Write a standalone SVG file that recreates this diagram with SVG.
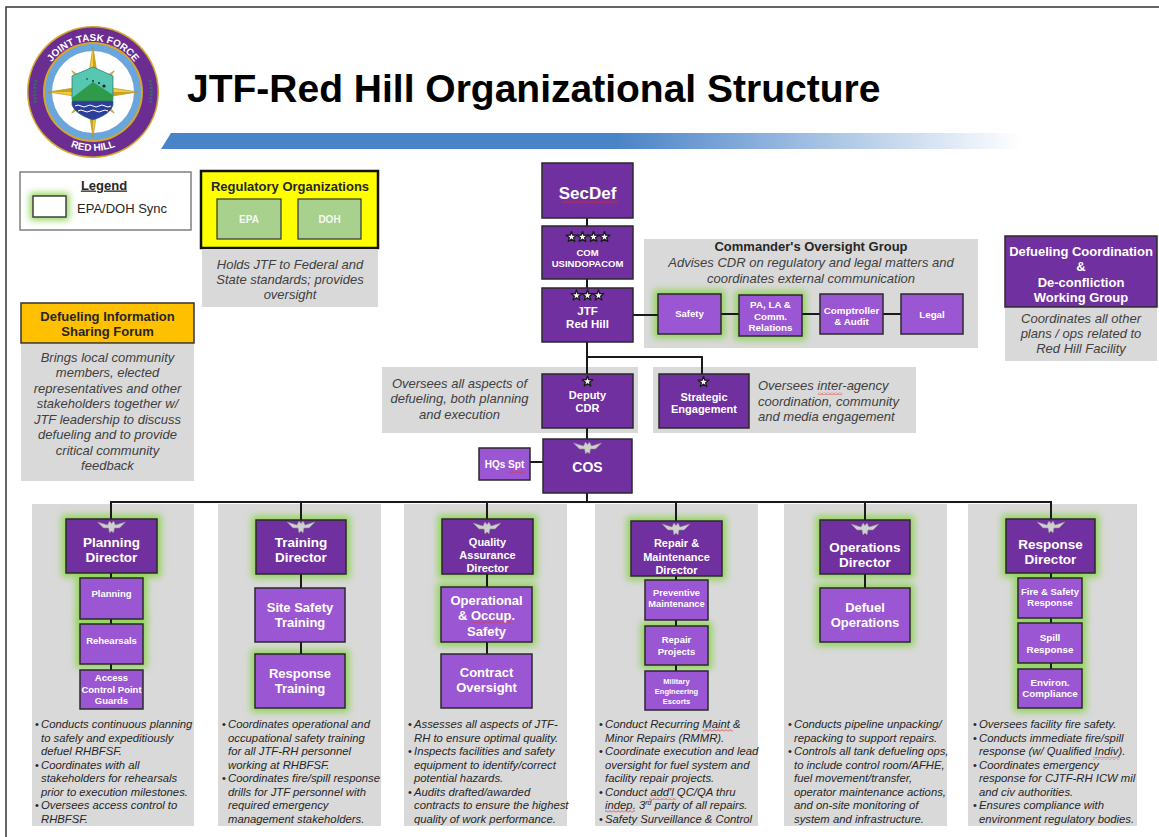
<svg xmlns="http://www.w3.org/2000/svg" xmlns:xlink="http://www.w3.org/1999/xlink" width="1159" height="837" viewBox="0 0 1159 837">
<defs>
<style>
text{font-family:"Liberation Sans",Arial,sans-serif}
.w{fill:#fff;font-weight:bold;text-anchor:middle}
.gi{fill:#404040;font-style:italic;font-size:13px;text-anchor:middle}
.gl{fill:#404040;font-style:italic;font-size:13px}
.bl{fill:#262626;font-style:italic;font-size:11.3px}
.bu{fill:#262626;font-size:11px}
.hd{fill:#262626;font-weight:bold;font-size:13px;text-anchor:middle}
.d{fill:#7030a0;stroke:#2a2a2a;stroke-width:1.5}
.s{fill:#9b57d3;stroke:#2a2a2a;stroke-width:1.5}
.gb{fill:#d9d9d9}
.glow{fill:#8fd456;filter:url(#blur)}
.c{stroke:#1a1a1a;stroke-width:2;fill:none}
.sq{fill:url(#squig)}
</style>
<filter id="blur" x="-40%" y="-40%" width="180%" height="180%"><feGaussianBlur stdDeviation="3.5"/></filter>
<linearGradient id="bar" gradientUnits="userSpaceOnUse" x1="161" y1="0" x2="1022" y2="0">
<stop offset="0" stop-color="#4a84c8"/><stop offset="0.53" stop-color="#4a84c8"/><stop offset="1" stop-color="#4a84c8" stop-opacity="0"/>
</linearGradient>
<pattern id="squig" width="4" height="3" patternUnits="userSpaceOnUse"><path d="M0,2.5 L2,0.5 L4,2.5" fill="none" stroke="#e03030" stroke-width="0.8"/></pattern>
<polygon id="star" points="0,-5.6 1.32,-1.81 5.33,-1.73 2.13,0.69 3.29,4.53 0,2.24 -3.29,4.53 -2.13,0.69 -5.33,-1.73 -1.32,-1.81" fill="#f4f4f4" stroke="#1a1a1a" stroke-width="1.3" stroke-linejoin="round"/>
<path id="eagle" d="M-14,-5 L-4,-2 L-2,-6 L0,-3.5 L2,-6 L4,-2 L14,-5 L8,1 L3,1 L2,6 L0,4 L-2,6 L-3,1 L-8,1 Z" fill="#d0d0d0" stroke="#8c8c8c" stroke-width="0.6"/>
<path id="arcTop" d="M42,92 A51,51 0 0 1 144,92"/>
<path id="arcBot" d="M34,92 A59,59 0 0 0 152,92"/>
</defs>

<rect width="1159" height="837" fill="#fff"/>
<path d="M6,837 L6,7 L1159,7" fill="none" stroke="#333" stroke-width="1.5"/>

<g id="logo">
<circle cx="93" cy="92" r="66" fill="#d4a72c"/>
<circle cx="93" cy="92" r="64.5" fill="#6b2d91"/>
<circle cx="93" cy="92" r="50" fill="#d4a72c"/>
<circle cx="93" cy="92" r="48" fill="#6aa6dc"/>
<circle cx="93" cy="92" r="41" fill="#fff"/>
<path d="M36,80 A58,58 0 0 0 36,104" fill="none" stroke="#2f6f66" stroke-width="3" stroke-dasharray="2 1.5"/>
<path d="M150,80 A58,58 0 0 1 150,104" fill="none" stroke="#2f6f66" stroke-width="3" stroke-dasharray="2 1.5"/>
<g transform="translate(93,92)">
<polygon transform="rotate(45)" points="0,-30 5,-5 30,0 5,5 0,30 -5,5 -30,0 -5,-5" fill="#e8c32a" stroke="#a8861a" stroke-width="0.6"/>
<polygon points="0,-45 6,-6 45,0 6,6 0,45 -6,6 -45,0 -6,-6" fill="#f0cd3a" stroke="#a8861a" stroke-width="0.6"/>
<path d="M0,-45 L6,-6 L0,0 Z M45,0 L6,6 L0,0 Z M0,45 L-6,6 L0,0 Z M-45,0 L-6,-6 L0,0 Z" fill="#c9a224"/>
</g>
<path d="M72,76 L93,67 L113,76 L113,100 L72,100 Z" fill="#55c7b3" stroke="#2d6f66" stroke-width="0.7"/>
<path d="M72,98 L93,82 L113,95 L113,102 L72,102 Z" fill="#2e9a4a"/>
<path d="M72,101 L113,101 L113,105 Q111,114 93,120 Q75,114 72,105 Z" fill="#2b3f9a" stroke="#2d6f66" stroke-width="0.7"/>
<path d="M75,106 q3,-2 6,0 t6,0 t6,0 t6,0 t6,0 t6,0 M78,111 q3,-2 6,0 t6,0 t6,0 t6,0 t6,0" fill="none" stroke="#fff" stroke-width="1"/>
<circle cx="87" cy="79" r="0.8" fill="#222"/><circle cx="93" cy="81" r="0.9" fill="#222"/><circle cx="99" cy="83" r="1" fill="#222"/><circle cx="104" cy="86" r="1.6" fill="#222"/>
<text font-size="10" font-weight="bold" fill="#fff"><textPath xlink:href="#arcTop" href="#arcTop" startOffset="50%" text-anchor="middle">JOINT TASK FORCE</textPath></text>
<text font-size="10" font-weight="bold" fill="#fff"><textPath xlink:href="#arcBot" href="#arcBot" startOffset="50%" text-anchor="middle">RED HILL</textPath></text>
</g>

<g id="title">
<text x="187" y="102" font-size="39" font-weight="bold" fill="#000">JTF-Red Hill Organizational Structure</text>
<polygon points="171,133 1030,133 1022,149 161,149" fill="url(#bar)"/>
</g>

<g id="legend">
<rect x="20" y="172" width="171" height="58" fill="#fff" stroke="#7f7f7f" stroke-width="1.5"/>
<text x="104" y="189.5" class="hd" text-decoration="underline" fill="#262626">Legend</text>
<rect class="glow" x="30" y="193" width="39" height="27"/>
<rect x="33" y="196" width="33" height="21" fill="#fff" stroke="#404040" stroke-width="1.5"/>
<text x="77" y="212.5" font-size="13" fill="#262626">EPA/DOH Sync</text>
</g>

<g id="regulatory">
<rect x="201" y="171" width="177" height="77" fill="#ffff00" stroke="#111" stroke-width="2.5"/>
<text x="290" y="191" class="hd">Regulatory Organizations</text>
<rect x="217" y="199" width="64" height="40" fill="#a9d18e" stroke="#333" stroke-width="1.2"/>
<text x="249" y="222.5" class="w" font-size="10" fill-opacity="0.9">EPA</text>
<rect x="298" y="199" width="63" height="40" fill="#a9d18e" stroke="#333" stroke-width="1.2"/>
<text x="329.5" y="222.5" class="w" font-size="10" fill-opacity="0.9">DOH</text>
<rect class="gb" x="202" y="249" width="176" height="58"/>
<text class="gi" x="290" y="268.5">Holds JTF to Federal and</text>
<text class="gi" x="290" y="283.5">State standards; provides</text>
<text class="gi" x="290" y="298.5">oversight</text>
</g>

<g id="dis-forum">
<rect x="21" y="303" width="173" height="40" fill="#ffc000" stroke="#333" stroke-width="1.5"/>
<text x="107.5" y="320.5" class="hd">Defueling Information</text>
<text x="107.5" y="336" class="hd">Sharing Forum</text>
<rect class="gb" x="21" y="344" width="173" height="137"/>
<text class="gi" x="107.5" y="361.5">Brings local community</text>
<text class="gi" x="107.5" y="377">members, elected</text>
<text class="gi" x="107.5" y="393">representatives and other</text>
<text class="gi" x="107.5" y="408">stakeholders together w/</text>
<text class="gi" x="107.5" y="423.5">JTF leadership to discuss</text>
<text class="gi" x="107.5" y="439">defueling and to provide</text>
<text class="gi" x="107.5" y="455">critical community</text>
<text class="gi" x="107.5" y="469.5">feedback</text>
</g>

<g id="backgrounds">
<rect class="gb" x="644" y="239" width="334" height="109"/>
<rect class="gb" x="382" y="367" width="256" height="66"/>
<rect class="gb" x="653" y="367" width="263" height="66"/>
<rect class="gb" x="32" y="504" width="162" height="322"/>
<rect class="gb" x="218" y="504" width="163" height="322"/>
<rect class="gb" x="404" y="504" width="163" height="322"/>
<rect class="gb" x="595" y="504" width="163" height="322"/>
<rect class="gb" x="784" y="504" width="163" height="322"/>
<rect class="gb" x="968" y="504" width="169" height="322"/>
</g>

<g id="glows">
<rect class="glow" x="654" y="290" width="71" height="48"/>
<rect class="glow" x="735" y="291" width="71" height="49"/>
<rect class="glow" x="62" y="515" width="99" height="62"/>
<rect class="glow" x="76" y="574" width="71" height="49"/>
<rect class="glow" x="76" y="620" width="71" height="48"/>
<rect class="glow" x="252" y="516" width="98" height="62"/>
<rect class="glow" x="251" y="650" width="98" height="62"/>
<rect class="glow" x="438" y="515" width="99" height="63"/>
<rect class="glow" x="437" y="583" width="99" height="63"/>
<rect class="glow" x="627" y="517" width="99" height="63"/>
<rect class="glow" x="641" y="622" width="71" height="47"/>
<rect class="glow" x="816" y="516" width="98" height="62"/>
<rect class="glow" x="816" y="584" width="98" height="62"/>
<rect class="glow" x="1002" y="515" width="97" height="62"/>
<rect class="glow" x="1014" y="574" width="72" height="48"/>
<rect class="glow" x="1014" y="619" width="72" height="48"/>
<rect class="glow" x="1014" y="665" width="72" height="47"/>
</g>

<g id="connectors">
<path class="c" d="M587,218 V226 M587,279 V288 M587,342 V374 M587,357 H702 V374 M633,315 H658 M721,314 H739 M802,314 H820 M883,314 H901 M587,428 V439 M530,462 H543 M587,493 V502"/>
<path class="c" d="M110,502 H1052 M111,502 V519 M301,502 V520 M487,502 V519 M676,502 V521 M865,502 V520 M1051,502 V519"/>
<path class="c" d="M111,573 V578 M111,619 V624 M111,664 V670 M301,574 V588 M301,642 V654 M487,574 V587 M487,642 V654 M676,576 V580 M676,620 V626 M676,665 V671 M865,574 V588 M1051,573 V578 M1051,618 V623 M1051,663 V669"/>
</g>

<g id="secdef">
<rect class="d" x="542" y="163" width="91" height="55"/>
<text x="587.5" y="199" class="w" font-size="17">SecDef</text>
</g>

<g id="usindopacom">
<rect class="d" x="542" y="226" width="91" height="53"/>
<use href="#star" xlink:href="#star" x="571.5" y="237"/>
<use href="#star" xlink:href="#star" x="582.5" y="237"/>
<use href="#star" xlink:href="#star" x="593.5" y="237"/>
<use href="#star" xlink:href="#star" x="604.5" y="237"/>
<text x="587.5" y="255.5" class="w" font-size="9.5">COM</text>
<text x="587.5" y="267" class="w" font-size="9.5">USINDOPACOM</text>
</g>

<g id="jtf-red-hill">
<rect class="d" x="542" y="288" width="91" height="54"/>
<use href="#star" xlink:href="#star" x="576.5" y="295.5"/>
<use href="#star" xlink:href="#star" x="587.5" y="295.5"/>
<use href="#star" xlink:href="#star" x="598.5" y="295.5"/>
<text x="587.5" y="315" class="w" font-size="11.5">JTF</text>
<text x="587.5" y="328" class="w" font-size="11.5">Red Hill</text>
</g>

<g id="oversight-group">
<text x="811" y="251" class="hd">Commander's Oversight Group</text>
<text class="gi" x="811" y="267">Advises CDR on regulatory and legal matters and</text>
<text class="gi" x="811" y="283">coordinates external communication</text>
</g>

<g id="safety">
<rect class="s" x="658" y="294" width="63" height="40"/>
<text x="689.5" y="317.3" class="w" font-size="9.5">Safety</text>
</g>
<g id="pa-la">
<rect class="s" x="739" y="295" width="63" height="41"/>
<text x="770.5" y="308.4" class="w" font-size="9.8">PA, LA &amp;</text>
<text x="770.5" y="320.2" class="w" font-size="9.8">Comm.</text>
<text x="770.5" y="331.2" class="w" font-size="9.8">Relations</text>
</g>
<g id="comptroller">
<rect class="s" x="820" y="294" width="63" height="40"/>
<text x="851.5" y="314.2" class="w" font-size="9.8">Comptroller</text>
<text x="851.5" y="325.2" class="w" font-size="9.8">&amp; Audit</text>
</g>
<g id="legal">
<rect class="s" x="901" y="294" width="62" height="40"/>
<text x="932" y="318.4" class="w" font-size="9.8">Legal</text>
</g>

<g id="dcdwg">
<rect class="d" x="1005" y="236" width="152" height="71"/>
<text x="1081" y="256" class="w" font-size="13">Defueling Coordination</text>
<text x="1081" y="271" class="w" font-size="13">&amp;</text>
<text x="1081" y="286.8" class="w" font-size="13">De-confliction</text>
<text x="1081" y="302" class="w" font-size="13">Working Group</text>
<rect class="gb" x="1005" y="308" width="152" height="53"/>
<text class="gi" x="1081" y="322.8">Coordinates all other</text>
<text class="gi" x="1081" y="337.8">plans / ops related to</text>
<text class="gi" x="1081" y="352.8">Red Hill Facility</text>
</g>

<g id="deputy-cdr">
<rect class="d" x="542" y="374" width="91" height="54"/>
<use href="#star" xlink:href="#star" x="587.5" y="381.5"/>
<text x="587.5" y="399" class="w" font-size="11">Deputy</text>
<text x="587.5" y="412" class="w" font-size="11">CDR</text>
<text class="gi" x="459.5" y="388">Oversees all aspects of</text>
<text class="gi" x="459.5" y="403">defueling, both planning</text>
<text class="gi" x="459.5" y="419">and execution</text>
</g>

<g id="strategic-engagement">
<rect class="d" x="659" y="374" width="90" height="54"/>
<use href="#star" xlink:href="#star" x="703.5" y="382"/>
<text x="704" y="401" class="w" font-size="11">Strategic</text>
<text x="704" y="413" class="w" font-size="11">Engagement</text>
<text class="gl" x="758" y="390">Oversees inter-agency</text>
<text class="gl" x="758" y="406">coordination, community</text>
<text class="gl" x="758" y="421">and media engagement</text>
</g>

<g id="hqs-spt">
<rect class="s" x="479" y="448" width="51" height="32"/>
<text x="504.5" y="467.5" class="w" font-size="10">HQs Spt</text>
</g>

<g id="cos">
<rect class="d" x="543" y="439" width="89" height="54"/>
<use href="#eagle" xlink:href="#eagle" x="587.5" y="448"/>
<text x="587.5" y="472" class="w" font-size="14">COS</text>
</g>

<g id="planning-director">
<rect class="d" x="66" y="519" width="91" height="54"/>
<use href="#eagle" xlink:href="#eagle" x="111.5" y="527"/>
<text x="111.5" y="547" class="w" font-size="13.5">Planning</text>
<text x="111.5" y="562" class="w" font-size="13.5">Director</text>
</g>
<g id="planning">
<rect class="s" x="80" y="578" width="63" height="41"/>
<text x="111.5" y="596.5" class="w" font-size="9.5">Planning</text>
</g>
<g id="rehearsals">
<rect class="s" x="80" y="624" width="63" height="40"/>
<text x="111.5" y="643.5" class="w" font-size="9.5">Rehearsals</text>
</g>
<g id="access-control">
<rect class="s" x="80" y="670" width="63" height="39"/>
<text x="111.5" y="680.7" class="w" font-size="9.5">Access</text>
<text x="111.5" y="692.7" class="w" font-size="9.5">Control Point</text>
<text x="111.5" y="703.7" class="w" font-size="9.5">Guards</text>
</g>
<g id="planning-text">
<text class="bu" x="35" y="728">•</text><text class="bl" x="41" y="728">Conducts continuous planning</text>
<text class="bl" x="41" y="741.5">to safely and expeditiously</text>
<text class="bl" x="41" y="755">defuel RHBFSF.</text>
<text class="bu" x="35" y="768.5">•</text><text class="bl" x="41" y="768.5">Coordinates with all</text>
<text class="bl" x="41" y="782">stakeholders for rehearsals</text>
<text class="bl" x="41" y="795.5">prior to execution milestones.</text>
<text class="bu" x="35" y="809">•</text><text class="bl" x="41" y="809">Oversees access control to</text>
<text class="bl" x="41" y="822.5">RHBFSF.</text>
</g>

<g id="training-director">
<rect class="d" x="256" y="520" width="90" height="54"/>
<use href="#eagle" xlink:href="#eagle" x="301" y="527"/>
<text x="301" y="547" class="w" font-size="13.5">Training</text>
<text x="301" y="562" class="w" font-size="13.5">Director</text>
</g>
<g id="site-safety-training">
<rect class="s" x="255" y="588" width="90" height="54"/>
<text x="300" y="611.5" class="w" font-size="13">Site Safety</text>
<text x="300" y="626.5" class="w" font-size="13">Training</text>
</g>
<g id="response-training">
<rect class="s" x="255" y="654" width="90" height="54"/>
<text x="300" y="677.5" class="w" font-size="13">Response</text>
<text x="300" y="692.5" class="w" font-size="13">Training</text>
</g>
<g id="training-text">
<text class="bu" x="222" y="728">•</text><text class="bl" x="228" y="728">Coordinates operational and</text>
<text class="bl" x="228" y="741.5">occupational safety training</text>
<text class="bl" x="228" y="755">for all JTF-RH personnel</text>
<text class="bl" x="228" y="768.5">working at RHBFSF.</text>
<text class="bu" x="222" y="782">•</text><text class="bl" x="228" y="782">Coordinates fire/spill response</text>
<text class="bl" x="228" y="795.5">drills for JTF personnel with</text>
<text class="bl" x="228" y="809">required emergency</text>
<text class="bl" x="228" y="822.5">management stakeholders.</text>
</g>

<g id="qa-director">
<rect class="d" x="442" y="519" width="91" height="55"/>
<use href="#eagle" xlink:href="#eagle" x="487" y="528"/>
<text x="487.5" y="546" class="w" font-size="11">Quality</text>
<text x="487.5" y="559" class="w" font-size="11">Assurance</text>
<text x="487.5" y="572" class="w" font-size="11">Director</text>
</g>
<g id="occ-safety">
<rect class="s" x="441" y="587" width="91" height="55"/>
<text x="486.5" y="604.5" class="w" font-size="13">Operational</text>
<text x="486.5" y="619.5" class="w" font-size="13">&amp; Occup.</text>
<text x="486.5" y="635.5" class="w" font-size="13">Safety</text>
</g>
<g id="contract-oversight">
<rect class="s" x="441" y="654" width="91" height="54"/>
<text x="486.5" y="676.5" class="w" font-size="13">Contract</text>
<text x="486.5" y="691.5" class="w" font-size="13">Oversight</text>
</g>
<g id="qa-text">
<text class="bu" x="408" y="728">•</text><text class="bl" x="414" y="728">Assesses all aspects of JTF-</text>
<text class="bl" x="414" y="741.5">RH to ensure optimal quality.</text>
<text class="bu" x="408" y="755">•</text><text class="bl" x="414" y="755">Inspects facilities and safety</text>
<text class="bl" x="414" y="768.5">equipment to identify/correct</text>
<text class="bl" x="414" y="782">potential hazards.</text>
<text class="bu" x="408" y="795.5">•</text><text class="bl" x="414" y="795.5">Audits drafted/awarded</text>
<text class="bl" x="414" y="809">contracts to ensure the highest</text>
<text class="bl" x="414" y="822.5">quality of work performance.</text>
</g>

<g id="repair-director">
<rect class="d" x="631" y="521" width="91" height="55"/>
<use href="#eagle" xlink:href="#eagle" x="676" y="529"/>
<text x="676.5" y="547" class="w" font-size="11">Repair &amp;</text>
<text x="676.5" y="561" class="w" font-size="11">Maintenance</text>
<text x="676.5" y="574" class="w" font-size="11">Director</text>
</g>
<g id="preventive-maintenance">
<rect class="s" x="645" y="580" width="63" height="40"/>
<text x="676.5" y="596.3" class="w" font-size="9.3">Preventive</text>
<text x="676.5" y="607.3" class="w" font-size="9.3">Maintenance</text>
</g>
<g id="repair-projects">
<rect class="s" x="645" y="626" width="63" height="39"/>
<text x="676.5" y="643.3" class="w" font-size="9.5">Repair</text>
<text x="676.5" y="655.3" class="w" font-size="9.5">Projects</text>
</g>
<g id="military-escorts">
<rect class="s" x="645" y="671" width="63" height="39"/>
<text x="676.5" y="683.6" class="w" font-size="7.5">Military</text>
<text x="676.5" y="693.6" class="w" font-size="7.5">Engineering</text>
<text x="676.5" y="703.6" class="w" font-size="7.5">Escorts</text>
</g>
<g id="repair-text">
<text class="bu" x="599" y="728">•</text><text class="bl" x="605" y="728">Conduct Recurring Maint &amp;</text>
<text class="bl" x="605" y="741.5">Minor Repairs (RMMR).</text>
<text class="bu" x="599" y="755">•</text><text class="bl" x="605" y="755">Coordinate execution and lead</text>
<text class="bl" x="605" y="768.5">oversight for fuel system and</text>
<text class="bl" x="605" y="782">facility repair projects.</text>
<text class="bu" x="599" y="795.5">•</text><text class="bl" x="605" y="795.5">Conduct add'l QC/QA thru</text>
<text class="bl" x="605" y="809">indep. 3<tspan font-size="7" dy="-4">rd</tspan><tspan dy="4"> party of all repairs.</tspan></text>
<text class="bu" x="599" y="822.5">•</text><text class="bl" x="605" y="822.5">Safety Surveillance &amp; Control</text>
</g>

<g id="operations-director">
<rect class="d" x="820" y="520" width="90" height="54"/>
<use href="#eagle" xlink:href="#eagle" x="865" y="529"/>
<text x="865" y="552" class="w" font-size="13.5">Operations</text>
<text x="865" y="567" class="w" font-size="13.5">Director</text>
</g>
<g id="defuel-operations">
<rect class="s" x="820" y="588" width="90" height="54"/>
<text x="865" y="611.5" class="w" font-size="13">Defuel</text>
<text x="865" y="626.5" class="w" font-size="13">Operations</text>
</g>
<g id="operations-text">
<text class="bu" x="788" y="728">•</text><text class="bl" x="794" y="728">Conducts pipeline unpacking/</text>
<text class="bl" x="794" y="741.5">repacking to support repairs.</text>
<text class="bu" x="788" y="755">•</text><text class="bl" x="794" y="755">Controls all tank defueling ops,</text>
<text class="bl" x="794" y="768.5">to include control room/AFHE,</text>
<text class="bl" x="794" y="782">fuel movement/transfer,</text>
<text class="bl" x="794" y="795.5">operator maintenance actions,</text>
<text class="bl" x="794" y="809">and on-site monitoring of</text>
<text class="bl" x="794" y="822.5">system and infrastructure.</text>
</g>

<g id="response-director">
<rect class="d" x="1006" y="519" width="89" height="54"/>
<use href="#eagle" xlink:href="#eagle" x="1051" y="527"/>
<text x="1050.5" y="549" class="w" font-size="13.5">Response</text>
<text x="1050.5" y="564" class="w" font-size="13.5">Director</text>
</g>
<g id="fire-safety-response">
<rect class="s" x="1018" y="578" width="64" height="40"/>
<text x="1050" y="595.4" class="w" font-size="9.5">Fire &amp; Safety</text>
<text x="1050" y="606.4" class="w" font-size="9.5">Response</text>
</g>
<g id="spill-response">
<rect class="s" x="1018" y="623" width="64" height="40"/>
<text x="1050" y="641.4" class="w" font-size="9.8">Spill</text>
<text x="1050" y="653.4" class="w" font-size="9.8">Response</text>
</g>
<g id="environ-compliance">
<rect class="s" x="1018" y="669" width="64" height="39"/>
<text x="1050" y="686.4" class="w" font-size="9.8">Environ.</text>
<text x="1050" y="697.4" class="w" font-size="9.8">Compliance</text>
</g>
<g id="response-text">
<text class="bu" x="973" y="728">•</text><text class="bl" x="979" y="728">Oversees facility fire safety.</text>
<text class="bu" x="973" y="741.5">•</text><text class="bl" x="979" y="741.5">Conducts immediate fire/spill</text>
<text class="bl" x="979" y="755">response (w/ Qualified Indiv).</text>
<text class="bu" x="973" y="768.5">•</text><text class="bl" x="979" y="768.5">Coordinates emergency</text>
<text class="bl" x="979" y="782">response for CJTF-RH ICW mil</text>
<text class="bl" x="979" y="795.5">and civ authorities.</text>
<text class="bu" x="973" y="809">•</text><text class="bl" x="979" y="809">Ensures compliance with</text>
<text class="bl" x="979" y="822.5">environment regulatory bodies.</text>
</g>

<g id="spellcheck">
<rect class="sq" x="562" y="200" width="56" height="3"/>
<rect class="sq" x="818" y="392" width="24" height="3"/>
<rect class="sq" x="509" y="470" width="17" height="3"/>
<rect class="sq" x="471" y="621" width="40" height="3"/>
<rect class="sq" x="703" y="729" width="30" height="3"/>
<rect class="sq" x="649" y="797" width="27" height="3"/>
<rect class="sq" x="605" y="810" width="30" height="3"/>
<rect class="sq" x="1093" y="757" width="27" height="3"/>
</g>
</svg>
